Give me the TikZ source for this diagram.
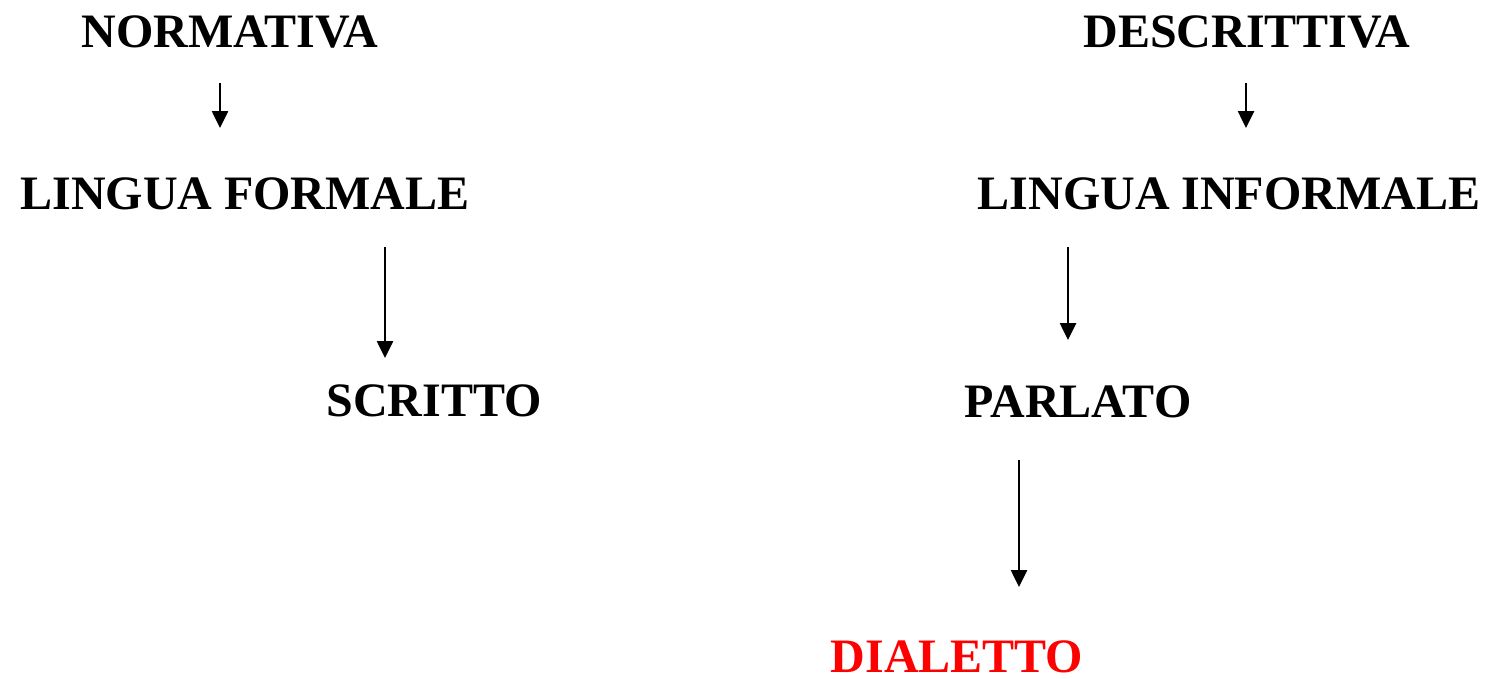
\documentclass[tikz,border=0pt]{standalone}
\usepackage{fontspec}
\setmainfont{Liberation Serif}
\usetikzlibrary{arrows.meta}
\definecolor{dialred}{RGB}{255,0,0}
\begin{document}
\begin{tikzpicture}[x=1pt,y=-1pt,
  lbl/.style={anchor=base,inner sep=0pt,font=\fontsize{48}{56}\selectfont\bfseries},
  conn/.style={line width=2.6pt,-{Triangle[width=16pt,length=17pt]}}]
\useasboundingbox (0,0) rectangle (1489,678);
\node[lbl] (norm) at (230,47) {NORMATIVA};
\node[lbl] (desc) at (1247,47) {DESCRITTIVA};
\node[lbl] (lf) at (245,209) {LINGUA FORMALE};
\node[lbl] (li) at (1229,209) {LINGUA INFORMALE};
\node[lbl] (scr) at (434,416) {SCRITTO};
\node[lbl] (par) at (1078,417) {PARLATO};
\node[lbl,text=dialred] (dia) at (957,672) {DIALETTO};
\coordinate (a1s) at (220,83);  \coordinate (a1e) at (220,128);
\coordinate (a2s) at (385,247); \coordinate (a2e) at (385,358);
\coordinate (a3s) at (1068,247); \coordinate (a3e) at (1068,340);
\coordinate (a4s) at (1246,83); \coordinate (a4e) at (1246,128);
\coordinate (a5s) at (1019,460); \coordinate (a5e) at (1019,587);
\draw[conn] (a1s) -- (a1e);
\draw[conn] (a2s) -- (a2e);
\draw[conn] (a3s) -- (a3e);
\draw[conn] (a4s) -- (a4e);
\draw[conn] (a5s) -- (a5e);
\end{tikzpicture}
\end{document}
